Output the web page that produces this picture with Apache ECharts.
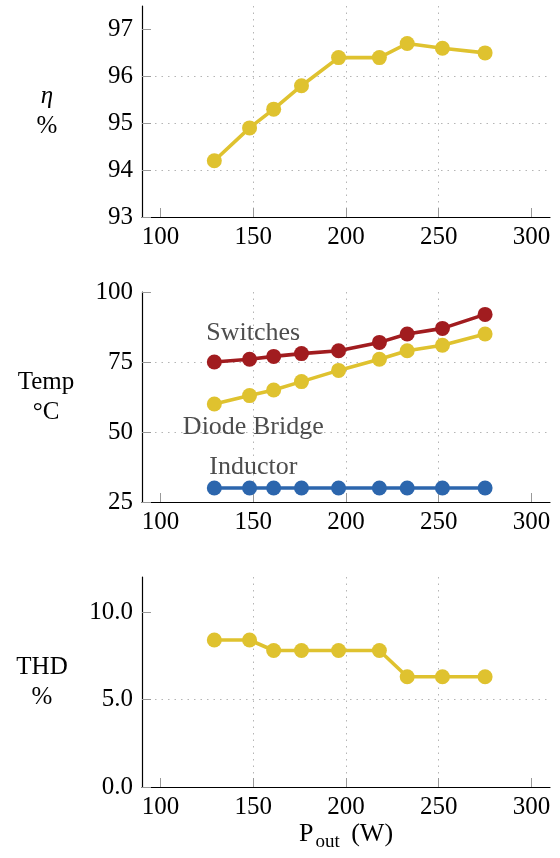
<!DOCTYPE html>
<html>
<head>
<meta charset="utf-8">
<script src="https://cdn.jsdelivr.net/npm/echarts@6/dist/echarts.min.js"></script>
<style>
html,body{margin:0;padding:0;background:#fff;}
#chart{width:560px;height:858px;}
</style>
</head>
<body>
<div id="chart"></div>
<script>
// ---- data ----
const pout = [129, 148, 161, 176, 196, 218, 233, 252, 275];
const efficiency = [94.2, 94.9, 95.3, 95.8, 96.4, 96.4, 96.7, 96.6, 96.5];
const tempSwitches = [75, 76, 77, 78, 79, 82, 85, 87, 92];
const tempDiode = [60, 63, 65, 68, 72, 76, 79, 81, 85];
const tempInductor = [30, 30, 30, 30, 30, 30, 30, 30, 30];
const thd = [8.4, 8.4, 7.8, 7.8, 7.8, 7.8, 6.3, 6.3, 6.3];
const xTicks = [100, 150, 200, 250, 300];
const seriesNames = ['Switches', 'Diode Bridge', 'Inductor'];

// ---- style ----
const FONT = '"Liberation Serif", "Times New Roman", serif';
const YELLOW = '#dfc22f';
const RED = '#a11c1f';
const BLUE = '#2c66ad';
const GRID_COLOR = '#b5b5b5';

const pairs = (ys) => pout.map((x, i) => [x, ys[i]]);

function xAxis(gridIndex, withName) {
  const ax = {
    type: 'value', gridIndex, min: 90, max: 310,
    axisLine: {show: true, onZero: false, lineStyle: {color: '#000', width: 1.2}},
    axisTick: {show: true, inside: true, length: 9, customValues: xTicks, lineStyle: {color: '#999'}},
    axisLabel: {show: true, customValues: xTicks,
      color: '#000', fontFamily: FONT, fontSize: 25, margin: 8},
    splitLine: {show: true, showMinLine: false, showMaxLine: false,
      lineStyle: {color: GRID_COLOR, type: [1.5, 5], width: 1}}
  };
  if (withName) {
    ax.name = '{n|P}{s|out}{n| (W)}';
    ax.nameLocation = 'middle';
    ax.nameGap = 29;
    ax.nameTextStyle = {
      rich: {
        n: {fontFamily: FONT, fontSize: 26, color: '#000', verticalAlign: 'top'},
        s: {fontFamily: FONT, fontSize: 19, color: '#000', verticalAlign: 'top', padding: [12, 5, 0, 2]}
      }
    };
  }
  return ax;
}

function yAxis(gridIndex, min, max, interval, yTicks, nameRich, nameGap, fmt) {
  return {
    type: 'value', gridIndex, min, max, interval,
    name: nameRich.text, nameLocation: 'middle', nameRotate: 0, nameGap,
    nameTextStyle: {align: 'center', verticalAlign: 'middle', rich: nameRich.rich},
    axisLine: {show: true, onZero: false, lineStyle: {color: '#000', width: 1.2}},
    axisTick: {show: true, inside: true, length: 9, customValues: yTicks, lineStyle: {color: '#999'}},
    axisLabel: {show: true, customValues: yTicks, color: '#000',
      fontFamily: FONT, fontSize: 25, margin: 9, formatter: fmt},
    splitLine: {show: true, showMinLine: false, showMaxLine: false,
      lineStyle: {color: GRID_COLOR, type: [1.5, 5], width: 1}}
  };
}

const nameStyle = {fontFamily: FONT, fontSize: 25, color: '#000', lineHeight: 30, align: 'center'};

function lineSeries(name, xi, yi, ys, color) {
  return {
    name, type: 'line', xAxisIndex: xi, yAxisIndex: yi, data: pairs(ys),
    symbol: 'circle', symbolSize: 15, showSymbol: true,
    lineStyle: {color, width: 3.6}, itemStyle: {color},
    emphasis: {disabled: true}, animation: false, z: 3
  };
}

function annotate(series, label, x, y) {
  series.markPoint = {
    symbol: 'circle', symbolSize: 1, silent: true, animation: false,
    itemStyle: {color: 'rgba(0,0,0,0)'},
    label: {show: true, position: 'inside', formatter: label, color: '#4d4d4d',
      fontFamily: FONT, fontSize: 26},
    data: [{coord: [x, y]}]
  };
  return series;
}

const sSw = annotate(lineSeries(seriesNames[0], 1, 1, tempSwitches, RED), seriesNames[0], 150, 85.2);
const sDi = annotate(lineSeries(seriesNames[1], 1, 1, tempDiode, YELLOW), seriesNames[1], 150, 51.8);
const sIn = annotate(lineSeries(seriesNames[2], 1, 1, tempInductor, BLUE), seriesNames[2], 150, 37.4);

const option = {
  backgroundColor: '#fff',
  animation: false,
  grid: [
    {left: 142, right: 10, top: 6, height: 211, containLabel: false},
    {left: 142, right: 10, top: 292, height: 210, containLabel: false},
    {left: 142, right: 10, top: 577, height: 210, containLabel: false}
  ],
  xAxis: [xAxis(0, false), xAxis(1, false), xAxis(2, true)],
  yAxis: [
    yAxis(0, 93, 97.5, 1, [93, 94, 95, 96, 97],
      {text: '{i|η}\n{n|%}', rich: {i: Object.assign({}, nameStyle, {fontStyle: 'italic'}), n: nameStyle}}, 95,
      (v) => String(v)),
    yAxis(1, 25, 100, 25, [25, 50, 75, 100],
      {text: '{n|Temp}\n{n|°C}', rich: {n: nameStyle}}, 96, (v) => String(v)),
    yAxis(2, 0, 12, 5, [0, 5, 10],
      {text: '{n|THD}\n{n|%}', rich: {n: nameStyle}}, 100, (v) => v.toFixed(1))
  ],
  series: [
    lineSeries('η', 0, 0, efficiency, YELLOW),
    sDi, sSw, sIn,
    lineSeries('THD', 2, 2, thd, YELLOW)
  ]
};

const chart = echarts.init(document.getElementById('chart'), null, {renderer: 'canvas'});
chart.setOption(option);
</script>
</body>
</html>
